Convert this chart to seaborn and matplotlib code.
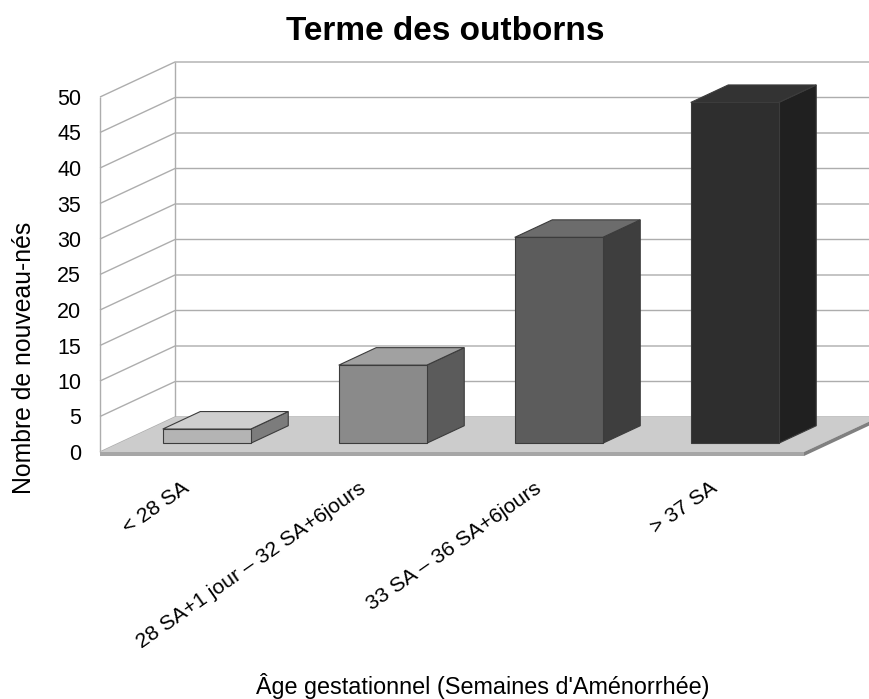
# plot.py
import pandas as pd
import matplotlib
matplotlib.use("Agg")
import matplotlib.pyplot as plt
from matplotlib.patches import Polygon
from matplotlib.transforms import Affine2D, IdentityTransform
import seaborn as sns

categories = ["< 28 SA", "28 SA+1 jour – 32 SA+6jours", "33 SA – 36 SA+6jours", "> 37 SA"]
counts = [2, 11, 29, 48]
y_ticks = [0, 5, 10, 15, 20, 25, 30, 35, 40, 45, 50]

front_colors = ["#b4b4b4", "#8a8a8a", "#5c5c5c", "#2e2e2e"]
side_colors = ["#7c7c7c", "#5b5b5b", "#3e3e3e", "#202020"]
top_colors = ["#cfcfcf", "#a1a1a1", "#6c6c6c", "#333333"]

# depth of the fake 3D box, in pixels
DEPTH_X, DEPTH_Y = 75.0, 35.0
GRID = "#adadad"

sns.set_theme(style="white")
plt.rcParams["font.family"] = ["Liberation Sans", "DejaVu Sans"]

W, H = 870, 699
fig = plt.figure(figsize=(W / 100, H / 100), dpi=100)
ax = fig.add_axes([100 / W, 1 - 452 / H, 704 / W, 355 / H])

df = pd.DataFrame({"terme": categories, "n": counts})
sns.barplot(data=df, x="terme", y="n", hue="terme", palette=front_colors,
            legend=False, width=0.5, ax=ax, saturation=1)
ax.set_xlim(-0.5, 3.5)
ax.set_ylim(0, 50)
sns.despine(ax=ax, left=True, bottom=True)


def depth_pt(x, y, t):
    """Data point pushed back by t (0 = front plane, 1 = back wall), in pixels."""
    px, py = ax.transData.transform((x, y))
    return (px + DEPTH_X * t, py + DEPTH_Y * t)


def add_poly(points, **kw):
    p = Polygon(points, closed=True, transform=IdentityTransform(), clip_on=False, **kw)
    ax.add_patch(p)
    return p


x0, x1 = ax.get_xlim()

# floor
add_poly([depth_pt(x0, 0, 0), depth_pt(x0, 0, 1), depth_pt(x1, 0, 1), depth_pt(x1, 0, 0)],
         facecolor="#cccccc", edgecolor="none", zorder=1.5)
fx0, fy0 = depth_pt(x0, 0, 0)
fx1, fy1 = depth_pt(x1, 0, 0)
add_poly([(fx0, fy0), (fx1, fy1), (fx1, fy1 - 4), (fx0, fy0 - 4)],
         facecolor="#a6a6a6", edgecolor="none", zorder=1.6)
bx1, by1 = depth_pt(x1, 0, 1)
add_poly([(fx1, fy1), (bx1, by1), (bx1, by1 - 4), (fx1, fy1 - 4)],
         facecolor="#808080", edgecolor="none", zorder=1.6)

# walls and gridlines
line_kw = dict(color=GRID, lw=1.0, transform=IdentityTransform(), clip_on=False, solid_capstyle="butt")
for v in y_ticks:
    a, b, c = depth_pt(x0, v, 0), depth_pt(x0, v, 1), depth_pt(x1, v, 1)
    ax.plot([a[0], b[0], c[0]], [a[1], b[1], c[1]], zorder=1.2, **line_kw)
for t in (0, 1):
    a, b = depth_pt(x0, 0, t), depth_pt(x0, 50, t)
    ax.plot([a[0], b[0]], [a[1], b[1]], zorder=1.2, **line_kw)

# bars: seaborn front faces moved into the box, sides and tops added from them
bars = list(ax.patches)[: len(categories)]
edge = "#3c3c3c"
for bar, side, top in zip(bars, side_colors, top_colors):
    xa, xb = bar.get_x(), bar.get_x() + bar.get_width()
    h = bar.get_height()
    t0, t1 = 0.25, 0.75
    add_poly([depth_pt(xb, 0, t0), depth_pt(xb, 0, t1), depth_pt(xb, h, t1), depth_pt(xb, h, t0)],
             facecolor=side, edgecolor=edge, lw=0.8, zorder=3)
    add_poly([depth_pt(xa, h, t0), depth_pt(xb, h, t0), depth_pt(xb, h, t1), depth_pt(xa, h, t1)],
             facecolor=top, edgecolor=edge, lw=0.8, zorder=3)
    bar.set_transform(ax.transData + Affine2D().translate(DEPTH_X * t0, DEPTH_Y * t0))
    bar.set_edgecolor(edge)
    bar.set_linewidth(0.8)
    bar.set_clip_on(False)
    bar.set_zorder(3.1)

ax.set_yticks(y_ticks)
ax.tick_params(axis="y", length=0, pad=13.5, labelsize=15.5, labelcolor="black")
ax.set_xticks(range(len(categories)))
ax.set_xticklabels(categories, rotation=35, ha="right", rotation_mode="anchor", fontsize=15.3)
ax.tick_params(axis="x", length=0, pad=19, labelcolor="black")
for lab in ax.get_xticklabels():
    lab.set_transform(lab.get_transform() + Affine2D().translate(-6, 0))

ax.set_xlabel("")
ax.set_ylabel("")
fig.text(482.5 / W, 1 - 686 / H, "Âge gestationnel (Semaines d'Aménorrhée)", fontsize=16.8,
         ha="center", va="center", color="black")
fig.text(24 / W, 1 - 358 / H, "Nombre de nouveau-nés", fontsize=17.8, rotation=90,
         ha="center", va="center", color="black")
fig.text(445 / W, 1 - 31 / H, "Terme des outborns", fontsize=24, fontweight="bold",
         ha="center", va="center", color="black")

fig.savefig("out.png", dpi=100)
